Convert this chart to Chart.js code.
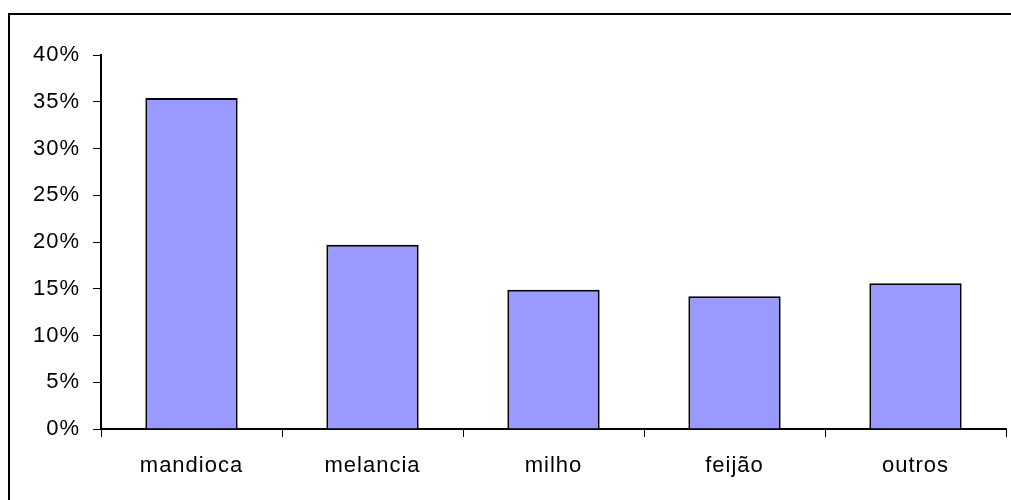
<!DOCTYPE html>
<html>
<head>
<meta charset="utf-8">
<script src="https://cdn.jsdelivr.net/npm/chart.js@4/dist/chart.umd.min.js"></script>
<style>
  html, body { margin: 0; padding: 0; background: #fff; }
  #wrap { width: 1011px; height: 500px; position: relative; }
</style>
</head>
<body>
<div id="wrap"><canvas id="c" width="1011" height="500"></canvas></div>
<script>
// Share of production by crop
const categories = ['mandioca', 'melancia', 'milho', 'feijão', 'outros'];
const shares = [35.4, 19.7, 14.9, 14.2, 15.6];
const yTicks = [0, 5, 10, 15, 20, 25, 30, 35, 40];

const FONT = { family: 'Liberation Sans', size: 22 };

// Slightly open letter spacing for all labels
const spacingPlugin = {
  id: 'spacing',
  beforeLayout(chart) { chart.ctx.letterSpacing = '1px'; },
  beforeDraw(chart) { chart.ctx.letterSpacing = '1px'; }
};

// Frame around the whole chart
const framePlugin = {
  id: 'frame',
  beforeDraw(chart) {
    const ctx = chart.ctx;
    ctx.save();
    ctx.fillStyle = '#fff';
    ctx.fillRect(0, 0, chart.width, chart.height);
    ctx.strokeStyle = '#000';
    ctx.lineWidth = 2;
    ctx.strokeRect(9, 14, 1200, 700);
    ctx.restore();
  }
};

new Chart(document.getElementById('c'), {
  type: 'bar',
  data: {
    labels: categories,
    datasets: [{
      data: shares,
      backgroundColor: '#9999FF',
      borderColor: '#000',
      borderWidth: 2,
      barPercentage: 0.51,
      categoryPercentage: 1.0
    }]
  },
  options: {
    responsive: false,
    animation: false,
    devicePixelRatio: 1,
    layout: { padding: { top: 55, right: 5, left: 0, bottom: 0 } },
    plugins: { legend: { display: false }, tooltip: { enabled: false } },
    scales: {
      x: {
        grid: { display: true, drawOnChartArea: false, offset: true, tickLength: 8, color: '#000', lineWidth: 1 },
        border: { display: true, color: '#000', width: 2 },
        ticks: { color: '#000', font: FONT, padding: 16, maxRotation: 0 },
        afterFit(scale) { scale.height = 71; }
      },
      y: {
        min: 0,
        max: 40,
        afterBuildTicks(scale) { scale.ticks = yTicks.map(v => ({ value: v })); },
        grid: { display: true, drawOnChartArea: false, tickLength: 8, color: '#000', lineWidth: 1 },
        border: { display: true, color: '#000', width: 2 },
        ticks: {
          color: '#000',
          font: FONT,
          padding: 13,
          callback: v => v + '%'
        },
        afterFit(scale) { scale.width = 101; }
      }
    }
  },
  plugins: [spacingPlugin, framePlugin]
});
</script>
</body>
</html>
